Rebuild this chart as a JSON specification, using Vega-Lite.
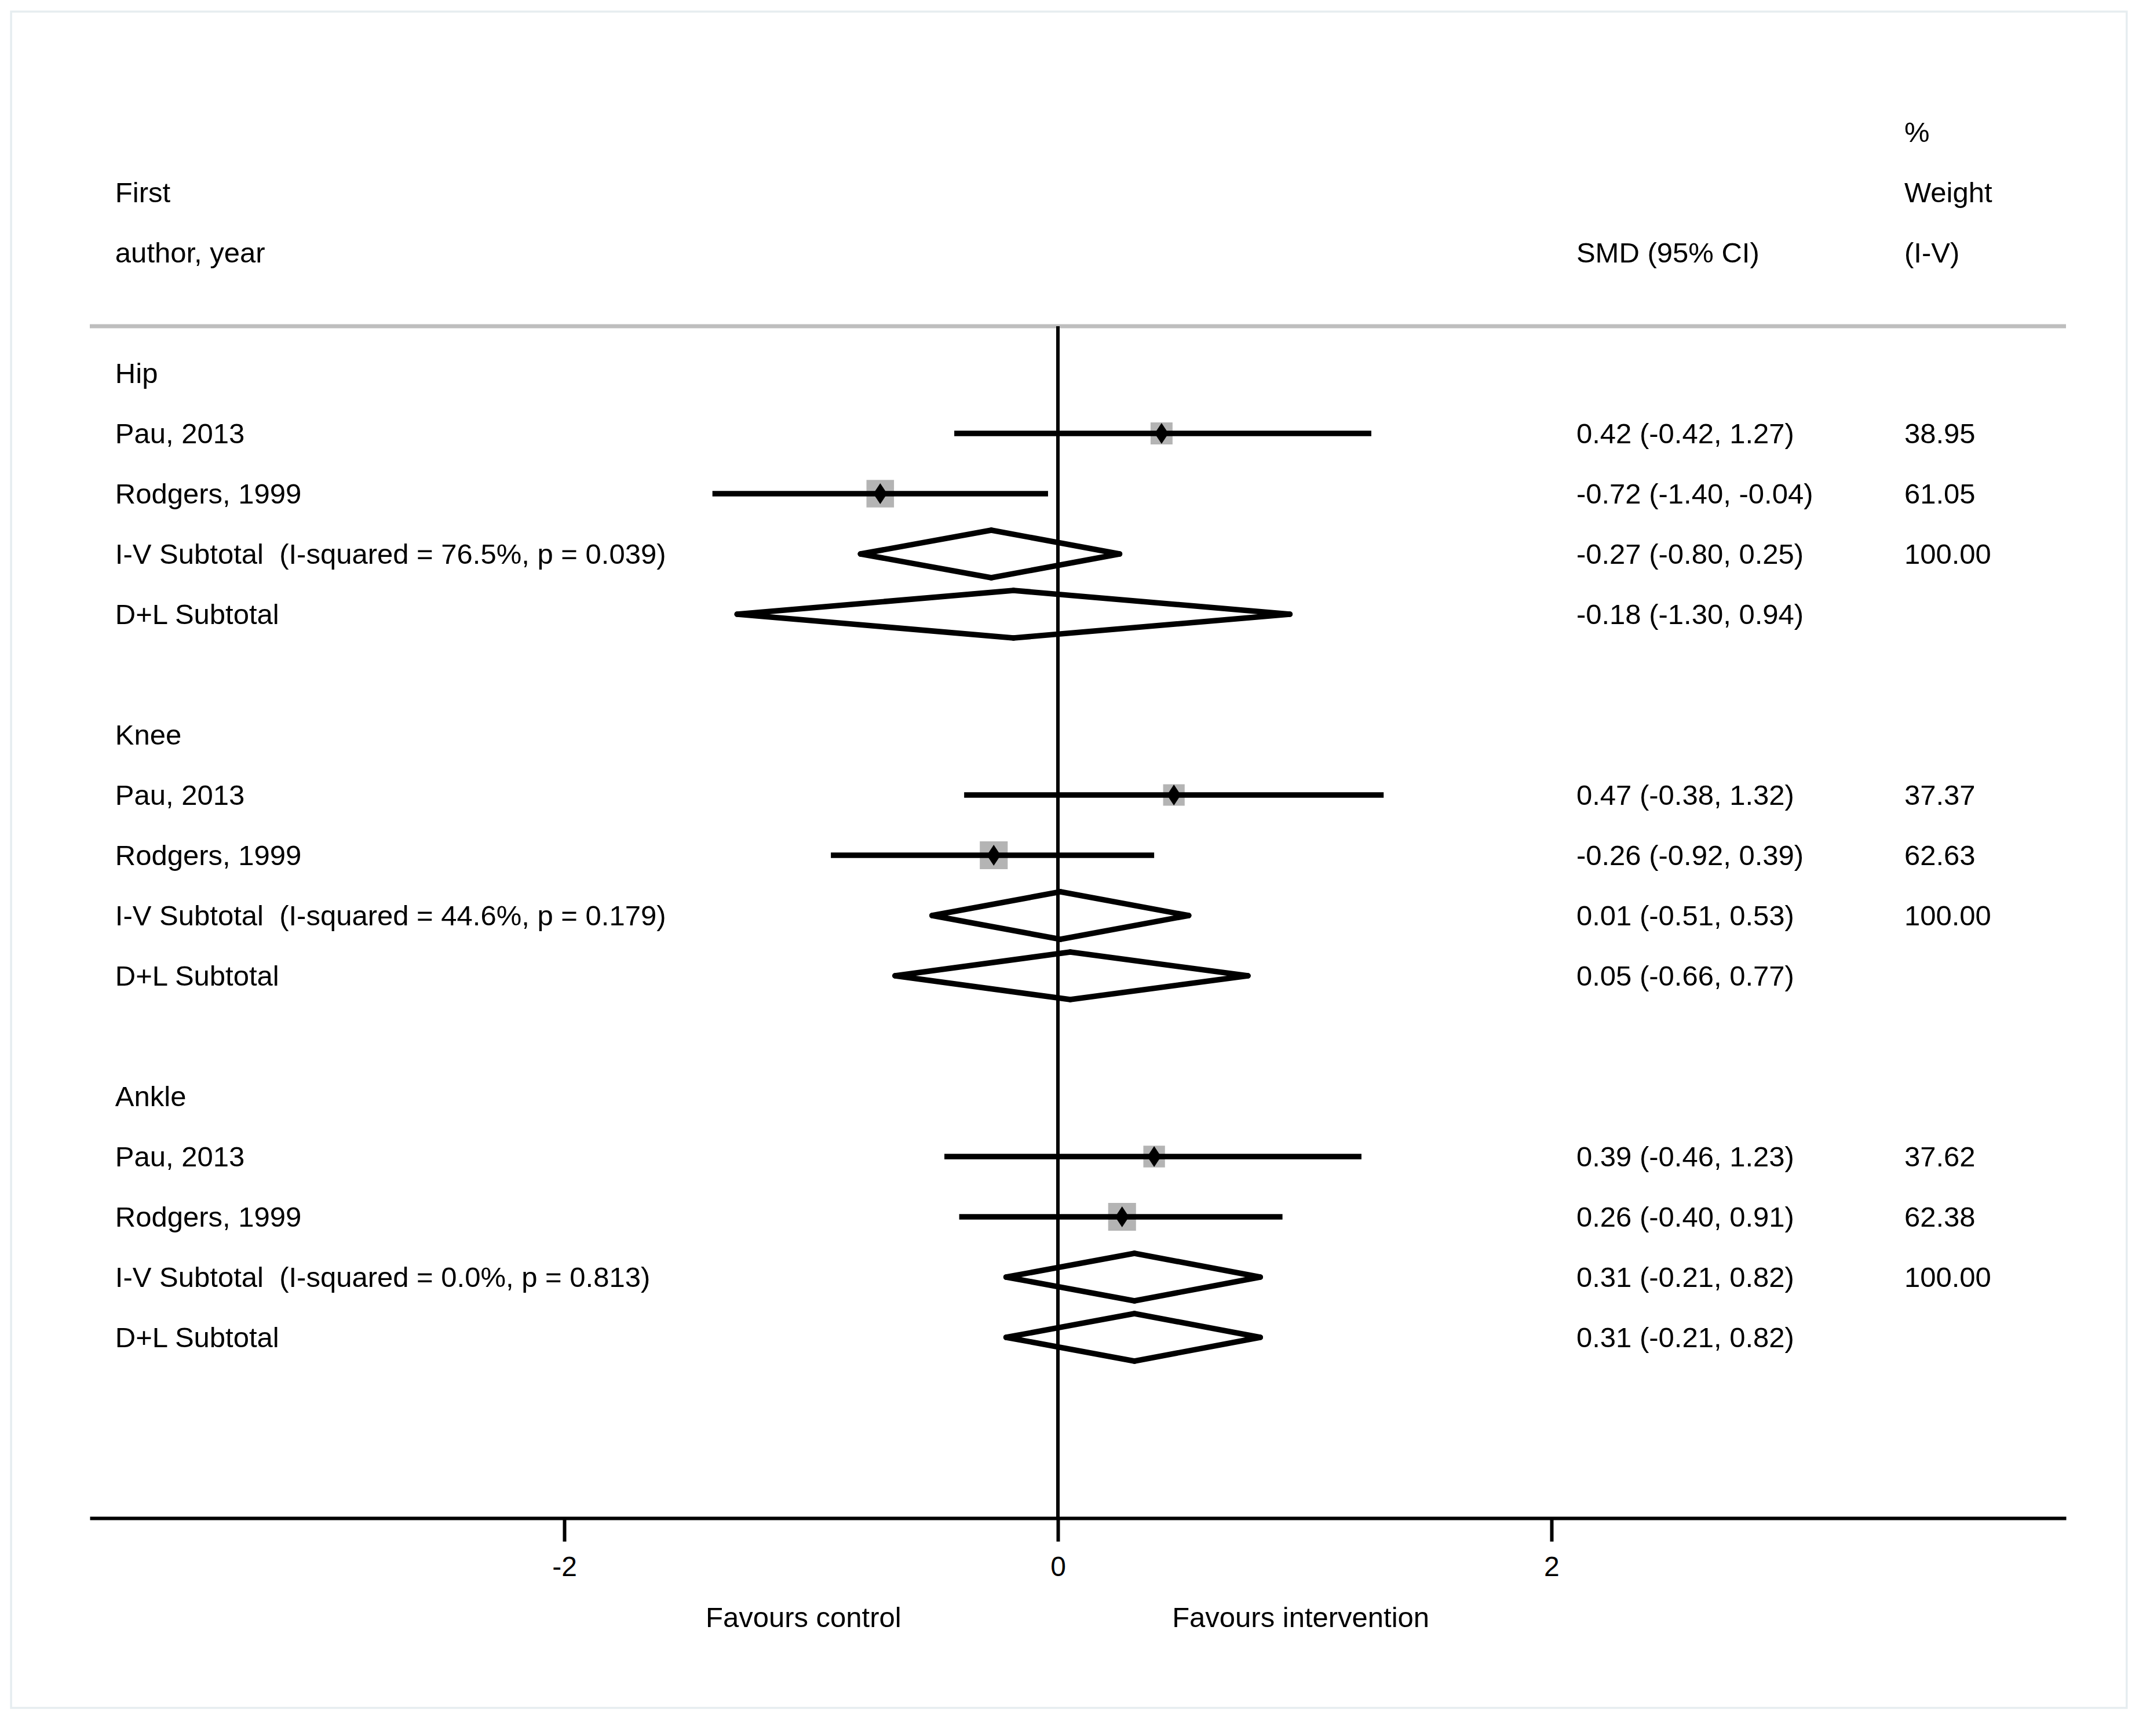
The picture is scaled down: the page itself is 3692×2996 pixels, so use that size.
{
  "$schema": "https://vega.github.io/schema/vega-lite/v6.json",
  "width": 3411,
  "height": 2057,
  "autosize": {"type": "none"},
  "padding": {"left": 155, "top": 563, "right": 126, "bottom": 376},
  "background": "white",
  "config": {
    "view": {"stroke": null},
    "font": "Liberation Sans",
    "axisX": {"grid": false, "domainColor": "black", "domainWidth": 6, "tickColor": "black", "tickWidth": 6, "tickSize": 40, "labelFontSize": 48, "labelPadding": 21, "labelColor": "black", "labelFont": "Liberation Sans", "labelFlush": false}
  },
  "datasets": {
    "rows": [
      {"kind": "header", "row": -4, "wt": "%"},
      {"kind": "header", "row": -3, "label": "First", "wt": "Weight"},
      {"kind": "header", "row": -2, "label": "author, year", "ci": "SMD (95% CI)", "wt": "(I-V)"},
      {"kind": "group", "row": 0, "label": "Hip"},
      {"kind": "study", "row": 1, "label": "Pau, 2013", "est": 0.42, "lo": -0.42, "hi": 1.27, "w": 38.95, "ci": "0.42 (-0.42, 1.27)", "wt": "38.95"},
      {"kind": "study", "row": 2, "label": "Rodgers, 1999", "est": -0.72, "lo": -1.40, "hi": -0.04, "w": 61.05, "ci": "-0.72 (-1.40, -0.04)", "wt": "61.05"},
      {"kind": "iv", "row": 3, "label": "I-V Subtotal\u00a0 (I-squared = 76.5%, p = 0.039)", "est": -0.27, "lo": -0.80, "hi": 0.25, "ci": "-0.27 (-0.80, 0.25)", "wt": "100.00"},
      {"kind": "dl", "row": 4, "label": "D+L Subtotal", "est": -0.18, "lo": -1.30, "hi": 0.94, "ci": "-0.18 (-1.30, 0.94)"},
      {"kind": "group", "row": 6, "label": "Knee"},
      {"kind": "study", "row": 7, "label": "Pau, 2013", "est": 0.47, "lo": -0.38, "hi": 1.32, "w": 37.37, "ci": "0.47 (-0.38, 1.32)", "wt": "37.37"},
      {"kind": "study", "row": 8, "label": "Rodgers, 1999", "est": -0.26, "lo": -0.92, "hi": 0.39, "w": 62.63, "ci": "-0.26 (-0.92, 0.39)", "wt": "62.63"},
      {"kind": "iv", "row": 9, "label": "I-V Subtotal\u00a0 (I-squared = 44.6%, p = 0.179)", "est": 0.01, "lo": -0.51, "hi": 0.53, "ci": "0.01 (-0.51, 0.53)", "wt": "100.00"},
      {"kind": "dl", "row": 10, "label": "D+L Subtotal", "est": 0.05, "lo": -0.66, "hi": 0.77, "ci": "0.05 (-0.66, 0.77)"},
      {"kind": "group", "row": 12, "label": "Ankle"},
      {"kind": "study", "row": 13, "label": "Pau, 2013", "est": 0.39, "lo": -0.46, "hi": 1.23, "w": 37.62, "ci": "0.39 (-0.46, 1.23)", "wt": "37.62"},
      {"kind": "study", "row": 14, "label": "Rodgers, 1999", "est": 0.26, "lo": -0.40, "hi": 0.91, "w": 62.38, "ci": "0.26 (-0.40, 0.91)", "wt": "62.38"},
      {"kind": "iv", "row": 15, "label": "I-V Subtotal\u00a0 (I-squared = 0.0%, p = 0.813)", "est": 0.31, "lo": -0.21, "hi": 0.82, "ci": "0.31 (-0.21, 0.82)", "wt": "100.00"},
      {"kind": "dl", "row": 16, "label": "D+L Subtotal", "est": 0.31, "lo": -0.21, "hi": 0.82, "ci": "0.31 (-0.21, 0.82)"}
    ]
  },
  "layer": [
    {
      "data": {"values": [{}]},
      "mark": {"type": "rect", "fillOpacity": 0, "stroke": "#e6edf0", "strokeWidth": 3.5},
      "encoding": {
        "x": {"datum": -4.242, "type": "quantitative", "scale": {"domain": [-3.923, 4.085], "nice": false, "zero": false}, "axis": {"values": [-2, 0, 2], "title": null, "labelExpr": "'' + datum.value"}},
        "x2": {"datum": 4.331},
        "y": {"datum": -6.0, "type": "quantitative", "scale": {"domain": [-0.7788, 19], "reverse": true, "nice": false, "zero": false}, "axis": null},
        "y2": {"datum": 22.15}
      }
    },
    {
      "data": {"values": [{}]},
      "mark": {"type": "rule", "color": "#bebebe", "strokeWidth": 7},
      "encoding": {
        "y": {"datum": -0.7788, "type": "quantitative", "axis": null}
      }
    },
    {
      "data": {"values": [{}]},
      "mark": {"type": "rule", "color": "black", "strokeWidth": 6},
      "encoding": {
        "x": {"datum": 0, "type": "quantitative", "axis": {"values": [-2, 0, 2], "title": null, "labelExpr": "'' + datum.value"}}
      }
    },
    {
      "data": {"name": "rows"},
      "transform": [{"filter": "datum.kind === 'study'"}],
      "mark": {"type": "square", "color": "#b4b4b4", "opacity": 1},
      "encoding": {
        "x": {"field": "est", "type": "quantitative", "axis": {"values": [-2, 0, 2], "title": null, "labelExpr": "'' + datum.value"}},
        "y": {"field": "row", "type": "quantitative", "axis": null},
        "size": {"field": "w", "type": "quantitative", "scale": {"domain": [0, 100], "range": [0, 3700]}, "legend": null}
      }
    },
    {
      "data": {"name": "rows"},
      "transform": [{"filter": "datum.kind === 'study'"}],
      "mark": {"type": "rule", "color": "black", "strokeWidth": 9.5},
      "encoding": {
        "x": {"field": "lo", "type": "quantitative", "axis": {"values": [-2, 0, 2], "title": null, "labelExpr": "'' + datum.value"}},
        "x2": {"field": "hi"},
        "y": {"field": "row", "type": "quantitative", "axis": null}
      }
    },
    {
      "data": {"name": "rows"},
      "transform": [{"filter": "datum.kind === 'study'"}],
      "mark": {"type": "point", "shape": "M0,-1L0.66,0L0,1L-0.66,0Z", "filled": true, "color": "black", "opacity": 1, "size": 1300, "strokeWidth": 0},
      "encoding": {
        "x": {"field": "est", "type": "quantitative", "axis": {"values": [-2, 0, 2], "title": null, "labelExpr": "'' + datum.value"}},
        "y": {"field": "row", "type": "quantitative", "axis": null}
      }
    },
    {
      "data": {"name": "rows"},
      "transform": [{"filter": "datum.kind === 'iv' || datum.kind === 'dl'"}],
      "mark": {"type": "rule", "color": "black", "strokeWidth": 9.5, "strokeCap": "round", "y2Offset": -41},
      "encoding": {
        "x": {"field": "lo", "type": "quantitative", "axis": {"values": [-2, 0, 2], "title": null, "labelExpr": "'' + datum.value"}},
        "x2": {"field": "est"},
        "y": {"field": "row", "type": "quantitative", "axis": null},
        "y2": {"field": "row"}
      }
    },
    {
      "data": {"name": "rows"},
      "transform": [{"filter": "datum.kind === 'iv' || datum.kind === 'dl'"}],
      "mark": {"type": "rule", "color": "black", "strokeWidth": 9.5, "strokeCap": "round", "yOffset": -41},
      "encoding": {
        "x": {"field": "est", "type": "quantitative", "axis": {"values": [-2, 0, 2], "title": null, "labelExpr": "'' + datum.value"}},
        "x2": {"field": "hi"},
        "y": {"field": "row", "type": "quantitative", "axis": null},
        "y2": {"field": "row"}
      }
    },
    {
      "data": {"name": "rows"},
      "transform": [{"filter": "datum.kind === 'iv' || datum.kind === 'dl'"}],
      "mark": {"type": "rule", "color": "black", "strokeWidth": 9.5, "strokeCap": "round", "y2Offset": 41},
      "encoding": {
        "x": {"field": "hi", "type": "quantitative", "axis": {"values": [-2, 0, 2], "title": null, "labelExpr": "'' + datum.value"}},
        "x2": {"field": "est"},
        "y": {"field": "row", "type": "quantitative", "axis": null},
        "y2": {"field": "row"}
      }
    },
    {
      "data": {"name": "rows"},
      "transform": [{"filter": "datum.kind === 'iv' || datum.kind === 'dl'"}],
      "mark": {"type": "rule", "color": "black", "strokeWidth": 9.5, "strokeCap": "round", "yOffset": 41},
      "encoding": {
        "x": {"field": "est", "type": "quantitative", "axis": {"values": [-2, 0, 2], "title": null, "labelExpr": "'' + datum.value"}},
        "x2": {"field": "lo"},
        "y": {"field": "row", "type": "quantitative", "axis": null},
        "y2": {"field": "row"}
      }
    },
    {
      "data": {"name": "rows"},
      "transform": [{"filter": "datum.label"}],
      "mark": {"type": "text", "align": "left", "baseline": "middle", "dy": 2, "fontSize": 49, "font": "Liberation Sans", "color": "black"},
      "encoding": {
        "x": {"datum": -3.82, "type": "quantitative", "axis": {"values": [-2, 0, 2], "title": null, "labelExpr": "'' + datum.value"}},
        "y": {"field": "row", "type": "quantitative", "axis": null},
        "text": {"field": "label"}
      }
    },
    {
      "data": {"name": "rows"},
      "transform": [{"filter": "datum.ci"}],
      "mark": {"type": "text", "align": "left", "baseline": "middle", "dy": 2, "fontSize": 49, "font": "Liberation Sans", "color": "black"},
      "encoding": {
        "x": {"datum": 2.101, "type": "quantitative", "axis": {"values": [-2, 0, 2], "title": null, "labelExpr": "'' + datum.value"}},
        "y": {"field": "row", "type": "quantitative", "axis": null},
        "text": {"field": "ci"}
      }
    },
    {
      "data": {"name": "rows"},
      "transform": [{"filter": "datum.wt"}],
      "mark": {"type": "text", "align": "left", "baseline": "middle", "dy": 2, "fontSize": 49, "font": "Liberation Sans", "color": "black"},
      "encoding": {
        "x": {"datum": 3.43, "type": "quantitative", "axis": {"values": [-2, 0, 2], "title": null, "labelExpr": "'' + datum.value"}},
        "y": {"field": "row", "type": "quantitative", "axis": null},
        "text": {"field": "wt"}
      }
    },
    {
      "data": {"values": [{"t": "Favours control"}]},
      "mark": {"type": "text", "align": "center", "baseline": "middle", "dy": 2, "fontSize": 49, "font": "Liberation Sans", "color": "black"},
      "encoding": {
        "x": {"datum": -1.031, "type": "quantitative", "axis": {"values": [-2, 0, 2], "title": null, "labelExpr": "'' + datum.value"}},
        "y": {"datum": 20.64, "type": "quantitative", "axis": null},
        "text": {"field": "t"}
      }
    },
    {
      "data": {"values": [{"t": "Favours intervention"}]},
      "mark": {"type": "text", "align": "center", "baseline": "middle", "dy": 2, "fontSize": 49, "font": "Liberation Sans", "color": "black"},
      "encoding": {
        "x": {"datum": 0.984, "type": "quantitative", "axis": {"values": [-2, 0, 2], "title": null, "labelExpr": "'' + datum.value"}},
        "y": {"datum": 20.64, "type": "quantitative", "axis": null},
        "text": {"field": "t"}
      }
    }
  ]
}
